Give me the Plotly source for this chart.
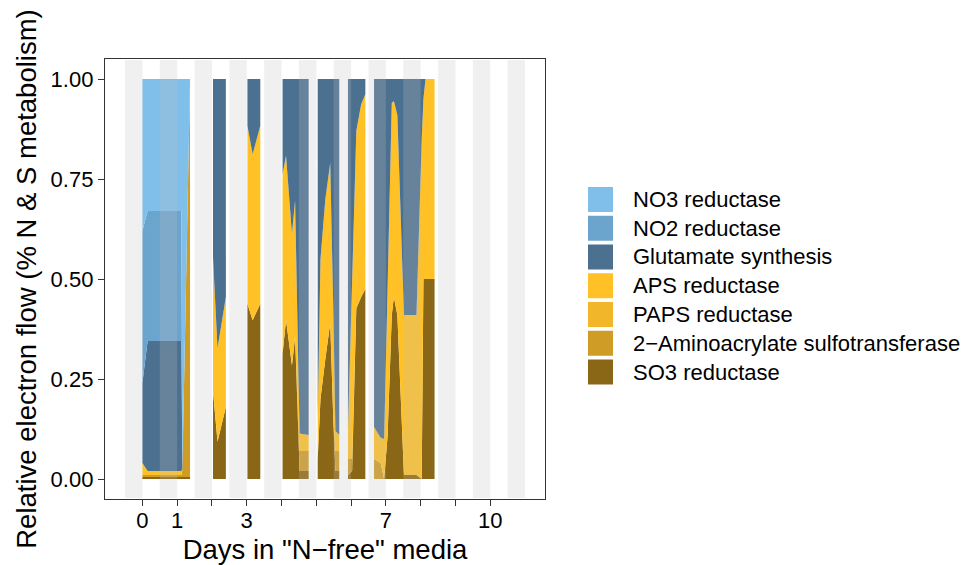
import plotly.graph_objects as go

# ---------------- data ----------------
series_names = ["SO3 reductase", "2\u2212Aminoacrylate sulfotransferase", "PAPS reductase",
                "APS reductase", "Glutamate synthesis", "NO2 reductase", "NO3 reductase"]
series_colors = ["#8A6716", "#CF9C26", "#F2B62B", "#FFC125", "#4B7090", "#6BA4CD", "#7FBFEA"]

# sampling blocks (each block is a separate continuous run of measurements)
block = [1, 1, 1, 1, 1,
         2, 2, 2,
         3, 3, 3,
         4, 4, 4, 4, 4, 4,
         5, 5, 5, 5, 5, 5, 5,
         6, 6, 6, 6, 6,
         7, 7, 7, 7, 7, 7, 7, 7, 7, 7, 7, 7, 7]
day = [0.00, 0.15, 1.12, 1.15, 1.37,
       2.03, 2.16, 2.40,
       3.02, 3.17, 3.39,
       4.03, 4.13, 4.30, 4.39, 4.52, 4.78,
       5.04, 5.12, 5.26, 5.40, 5.49, 5.55, 5.66,
       5.91, 6.03, 6.15, 6.29, 6.41,
       6.66, 6.85, 6.95, 7.05, 7.17, 7.23, 7.33, 7.52, 7.88, 8.03, 8.08, 8.14, 8.40]

so3 = [0.005, 0.005, 0.005, 0.005, 0.005,
       0.22, 0.093, 0.18,
       0.438, 0.397, 0.438,
       0.313, 0.397, 0.284, 0.355, 0.02, 0.02,
       0.05, 0.20, 0.30, 0.39, 0.145, 0.02, 0.02,
       0.01, 0.02, 0.426, 0.455, 0.475,
       0.0, 0.0, 0.0, 0.108, 0.41, 0.455, 0.41, 0.01, 0.01, 0.0, 0.5, 0.5, 0.5]
amino = [0.005, 0.005, 0.005, 0.02, 0.985,
         0.0, 0.0, 0.0,
         0.0, 0.0, 0.0,
         0.0, 0.0, 0.0, 0.0, 0.05, 0.05,
         0.0, 0.0, 0.0, 0.0, 0.0, 0.05, 0.05,
         0.04, 0.03, 0.0, 0.0, 0.0,
         0.05, 0.04, 0.0, 0.0, 0.0, 0.0, 0.0, 0.0, 0.0, 0.0, 0.0, 0.0, 0.0]
paps = [0.0] * 42
aps = [0.03, 0.01, 0.01, 0.0, 0.0,
       0.335, 0.234, 0.275,
       0.445, 0.415, 0.445,
       0.449, 0.411, 0.329, 0.341, 0.044, 0.04,
       0.10, 0.35, 0.40, 0.40, 0.275, 0.05, 0.04,
       0.072, 0.45, 0.444, 0.482, 0.487,
       0.08, 0.063, 0.10, 0.389, 0.53, 0.49, 0.50, 0.40, 0.40, 0.85, 0.45, 0.5, 0.5]
glut = [0.20, 0.325, 0.325, 0.005, 0.005,
        0.445, 0.673, 0.545,
        0.117, 0.188, 0.117,
        0.238, 0.192, 0.387, 0.304, 0.886, 0.89,
        0.85, 0.45, 0.30, 0.21, 0.58, 0.88, 0.89,
        0.878, 0.50, 0.13, 0.063, 0.038,
        0.87, 0.897, 0.90, 0.503, 0.06, 0.055, 0.09, 0.59, 0.59, 0.15, 0.05, 0.0, 0.0]
no2 = [0.38, 0.325, 0.325, 0.0, 0.0] + [0.0] * 37
no3 = [0.38, 0.33, 0.33, 0.97, 0.005] + [0.0] * 37

night_starts = [-0.5, 0.5, 1.5, 2.5, 3.5, 4.5, 5.5, 6.5, 7.5, 8.5, 9.5, 10.5]
night_length = 0.5

day_ticks = [0, 1, 2, 3, 4, 5, 6, 7, 8, 9, 10]
day_tick_labels = ["0", "1", "", "3", "", "", "", "7", "", "", "10"]
flow_ticks = [0, 0.25, 0.5, 0.75, 1.0]
flow_tick_labels = ["0.00", "0.25", "0.50", "0.75", "1.00"]

# ---------------- figure ----------------
FONT = "Liberation Sans, Arial, Helvetica, sans-serif"
series_values = [so3, amino, paps, aps, glut, no2, no3]

fig = go.Figure()
for b in sorted(set(block)):
    idx = [i for i, bb in enumerate(block) if bb == b]
    xs = [day[i] for i in idx]
    for name, col, vals in zip(series_names, series_colors, series_values):
        fig.add_trace(go.Scatter(
            x=xs, y=[vals[i] for i in idx],
            mode="lines", stackgroup=f"block{b}",
            line=dict(width=0, color=col), fillcolor=col,
            name=name, legendgroup=name, showlegend=False,
            hoverinfo="x+y+name"))

# night bands drawn on top, semi-transparent
for s in night_starts:
    fig.add_shape(type="rect", xref="x", yref="y", x0=s, x1=s + night_length,
                  y0=-0.0475, y1=1.0475, fillcolor="rgb(193,193,193)", opacity=0.24,
                  line=dict(width=0), layer="above")

# page has an 8px body margin; figure coordinates are page coordinates minus 8
OFF = 8
FIG_W, FIG_H = 973 - OFF, 565 - OFF
L, T, W, H = 105 - OFF, 59 - OFF, 440, 440

def px_to_paper(px, py):
    return (px - OFF - L) / W, (T + H - (py - OFF)) / H

# manual legend (ggplot-style square keys)
legend_order = list(range(len(series_names)))[::-1]  # top of stack first
for k, si in enumerate(legend_order):
    cy = 199.5 + 28.75 * k
    x0, y0 = px_to_paper(588, cy + 12.5)
    x1, y1 = px_to_paper(613, cy - 12.5)
    fig.add_shape(type="rect", xref="paper", yref="paper", x0=x0, x1=x1, y0=y0, y1=y1,
                  fillcolor=series_colors[si], line=dict(width=0), layer="above")
    tx, ty = px_to_paper(631, cy)
    fig.add_annotation(xref="paper", yref="paper", x=tx, y=ty, text=series_names[si],
                       showarrow=False, xanchor="left", yanchor="middle",
                       font=dict(family=FONT, size=22, color="black"))

axis_common = dict(showline=True, mirror=True, linecolor="#333333", linewidth=1.3,
                   ticks="outside", ticklen=6, tickwidth=1.1, tickcolor="#333333",
                   showgrid=False, zeroline=False, automargin=False,
                   tickfont=dict(family=FONT, size=22, color="black"))

fig.update_layout(
    width=FIG_W, height=FIG_H,
    margin=dict(l=L, r=FIG_W - L - W, t=T, b=FIG_H - T - H),
    paper_bgcolor="white", plot_bgcolor="white",
    showlegend=False,
    font=dict(family=FONT, color="black"),
    xaxis=dict(range=[-1.075, 11.575], tickvals=day_ticks, ticktext=day_tick_labels,
               ticklabelstandoff=-5,
               title=dict(text="Days in \"N\u2212free\" media", standoff=9,
                          font=dict(family=FONT, size=27.5, color="black")),
               **axis_common),
    yaxis=dict(range=[-0.05, 1.05], tickvals=flow_ticks, ticktext=flow_tick_labels,
               ticklabelstandoff=0,
               title=dict(text="Relative electron flow (% N & S metabolism)", standoff=5,
                          font=dict(family=FONT, size=27.5, color="black")),
               **axis_common),
)

fig.write_html("out.html")
